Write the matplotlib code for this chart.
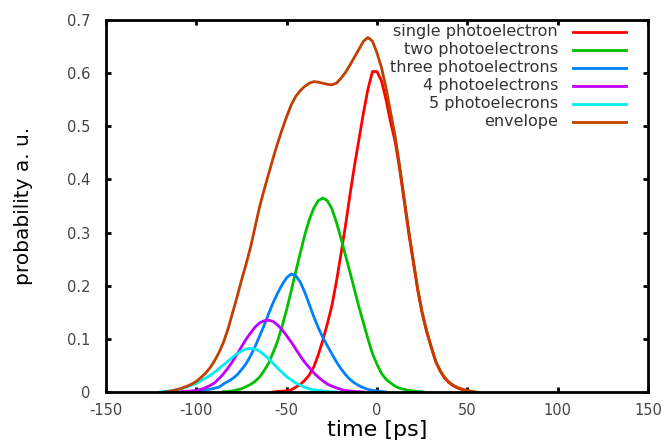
import numpy as np
import matplotlib
matplotlib.use('Agg')
import matplotlib.pyplot as plt
from matplotlib.lines import Line2D

plt.rcParams['axes.unicode_minus'] = False

# all curves sampled every 2.5 ps, starting at the given time [ps]
step = 2.5

single_start = -57.5
single = [0.0, 0.001, 0.0015, 0.0025, 0.004, 0.009, 0.014, 0.022, 0.032,
          0.047, 0.07, 0.097, 0.128, 0.162, 0.207, 0.258, 0.312, 0.37, 0.425,
          0.475, 0.525, 0.57, 0.603, 0.603, 0.585, 0.55, 0.508, 0.472, 0.42,
          0.36, 0.3, 0.246, 0.192, 0.148, 0.113, 0.084, 0.057, 0.039, 0.026,
          0.017, 0.011, 0.007, 0.004, 0.002, 0.001]

two_start = -85.0
two = [0.0006, 0.001, 0.002, 0.004, 0.006, 0.01, 0.014, 0.02, 0.028, 0.04,
       0.054, 0.074, 0.096, 0.124, 0.155, 0.19, 0.226, 0.261, 0.295, 0.324,
       0.346, 0.36, 0.365, 0.36, 0.345, 0.32, 0.29, 0.258, 0.226, 0.193,
       0.16, 0.13, 0.1, 0.072, 0.052, 0.035, 0.024, 0.017, 0.011, 0.007,
       0.005, 0.003, 0.002, 0.001, 0.0005]

three_start = -105.0
three = [0.0005, 0.001, 0.0015, 0.0025, 0.004, 0.005, 0.007, 0.009, 0.015,
         0.02, 0.025, 0.032, 0.042, 0.053, 0.068, 0.085, 0.105, 0.125, 0.147,
         0.168, 0.186, 0.202, 0.215, 0.222, 0.219, 0.207, 0.188, 0.165, 0.142,
         0.121, 0.103, 0.087, 0.072, 0.057, 0.044, 0.033, 0.024, 0.017, 0.012,
         0.008, 0.005, 0.003, 0.002, 0.001, 0.0]

four_start = -112.5
four = [0.0, 0.0005, 0.001, 0.0015, 0.002, 0.003, 0.005, 0.008, 0.012, 0.017,
        0.025, 0.034, 0.045, 0.057, 0.071, 0.085, 0.099, 0.111, 0.122, 0.13,
        0.134, 0.135, 0.133, 0.126, 0.117, 0.106, 0.094, 0.081, 0.068, 0.056,
        0.046, 0.036, 0.028, 0.021, 0.015, 0.011, 0.008, 0.005, 0.003, 0.002,
        0.001, 0.0005, 0.0]

five_start = -120.0
five = [0.0, 0.001, 0.002, 0.003, 0.005, 0.007, 0.01, 0.013, 0.016, 0.021,
        0.026, 0.031, 0.037, 0.044, 0.051, 0.058, 0.065, 0.072, 0.077, 0.081,
        0.082, 0.081, 0.077, 0.07, 0.063, 0.054, 0.045, 0.037, 0.029, 0.023,
        0.017, 0.013, 0.009, 0.006, 0.004, 0.003, 0.002, 0.001, 0.0005, 0.0]

envelope_start = -117.5
envelope = [0.0, 0.001, 0.003, 0.005, 0.008, 0.011, 0.015, 0.02, 0.027, 0.035,
            0.045, 0.058, 0.074, 0.093, 0.118, 0.148, 0.178, 0.21, 0.24,
            0.272, 0.31, 0.348, 0.38, 0.41, 0.44, 0.468, 0.494, 0.518, 0.54,
            0.556, 0.567, 0.575, 0.581, 0.584, 0.583, 0.581, 0.579, 0.578,
            0.581, 0.59, 0.601, 0.615, 0.63, 0.645, 0.66, 0.667, 0.66, 0.638,
            0.61, 0.572, 0.527, 0.482, 0.426, 0.366, 0.305, 0.25, 0.195, 0.15,
            0.115, 0.085, 0.058, 0.04, 0.027, 0.018, 0.012, 0.008, 0.005,
            0.003, 0.001, 0.0]

labels = ['single photoelectron', 'two photoelectrons', 'three photoelectrons',
          '4 photoelectrons', '5 photoelecrons', 'envelope']
colors = ['#ff0000', '#00c000', '#0080ff', '#c000ff', '#00eeee', '#c04000']

fig = plt.figure(figsize=(6.62, 4.43), dpi=100)
ax = fig.add_axes([0.160, 0.1151, 0.819, 0.8398])

series = [(single_start, single), (two_start, two), (three_start, three),
          (four_start, four), (five_start, five), (envelope_start, envelope)]
for (t0, ys), c in zip(series, colors):
    t = t0 + step * np.arange(len(ys))
    ax.plot(t, ys, color=c, lw=2.0)

ax.set_xlim(-150, 150)
ax.set_ylim(0, 0.7)
ax.set_xticks(np.arange(-150, 151, 50))
ax.set_yticks(np.arange(0, 0.71, 0.1))
ax.set_yticklabels(['0', '0.1', '0.2', '0.3', '0.4', '0.5', '0.6', '0.7'])

for s in ax.spines.values():
    s.set_linewidth(2)
ax.tick_params(direction='in', top=True, right=True, length=3.5, width=2,
               labelsize=10.5, labelcolor='#444444')
ax.tick_params(axis='x', pad=8)
ax.tick_params(axis='y', pad=11)
ax.set_xlabel('time [ps]', fontsize=16)
ax.set_ylabel('probability a. u.', fontsize=14.5)
ax.xaxis.set_label_coords(0.5, -0.075)
ax.yaxis.set_label_coords(-0.135, 0.5)

# gnuplot-style key: right-aligned text, sample line on the right
for i, (lab, c) in enumerate(zip(labels, colors)):
    yk = 0.968 - i * 0.0484
    ax.text(0.834, yk, lab, transform=ax.transAxes, ha='right', va='center',
            fontsize=11.5, color='#333333')
    ax.add_line(Line2D([0.861, 0.959], [yk, yk], transform=ax.transAxes,
                       color=c, lw=2.0))

plt.savefig('out.png', dpi=100)
